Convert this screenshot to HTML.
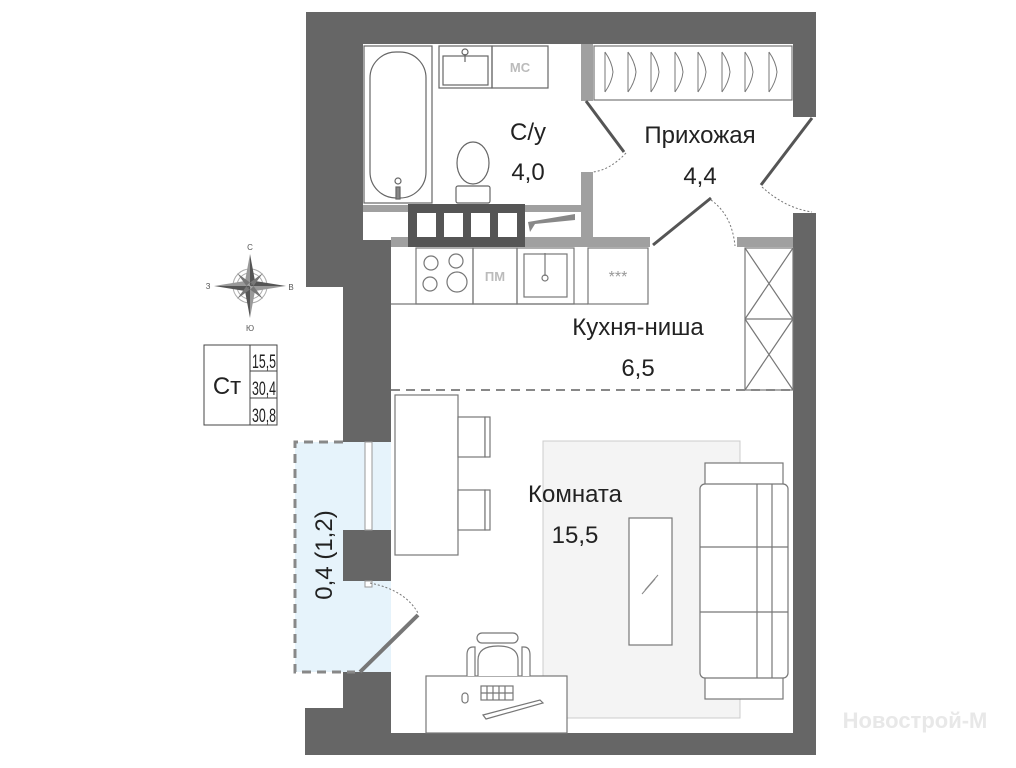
<!DOCTYPE html>
<html><head><meta charset="utf-8"><style>
html,body{margin:0;padding:0;background:#fff;}
svg{display:block;}
text{font-family:"Liberation Sans","DejaVu Sans",sans-serif;}
</style></head><body>
<svg width="1016" height="768" viewBox="0 0 1016 768" xmlns="http://www.w3.org/2000/svg">
<g fill="#666">
<rect x="306" y="12" width="510" height="32"/>
<rect x="306" y="12" width="57" height="275"/>
<rect x="343" y="240" width="48" height="202"/>
<rect x="793" y="12" width="23" height="105"/>
<rect x="793" y="213" width="23" height="542"/>
<rect x="305" y="733" width="511" height="22"/>
<rect x="343" y="672" width="48" height="83"/>
<rect x="305" y="708" width="50" height="47"/>
<rect x="343" y="530" width="48" height="51"/>
</g>
<rect x="295" y="442" width="48" height="230" fill="#e6f3fb"/>
<rect x="343" y="442" width="48" height="88" fill="#e6f3fb"/>
<rect x="343" y="581" width="48" height="91" fill="#e6f3fb"/>
<path d="M343 442 H295 V672 H355" fill="none" stroke="#888" stroke-width="3" stroke-dasharray="9,6"/>
<rect x="365" y="442" width="7" height="88" fill="#fff" stroke="#999" stroke-width="1"/>
<rect x="365" y="581" width="7" height="6" fill="#fff" stroke="#999" stroke-width="1"/>
<line x1="360" y1="672" x2="418" y2="615" stroke="#777" stroke-width="4"/>
<path d="M370 583 Q405 590 418 613" fill="none" stroke="#777" stroke-width="1" stroke-dasharray="2,2"/>
<g fill="#a0a0a0">
<rect x="363" y="205" width="48" height="7"/>
<rect x="525" y="205" width="56" height="7"/>
<rect x="581" y="44" width="12" height="57"/>
<rect x="581" y="172" width="12" height="75"/>
<rect x="391" y="237" width="259" height="10"/>
<rect x="737" y="237" width="56" height="10"/>
</g>
<rect x="408" y="204" width="117" height="43" fill="#555"/>
<g fill="#fff">
<rect x="417" y="213" width="19" height="24"/><rect x="444" y="213" width="19" height="24"/><rect x="471" y="213" width="19" height="24"/><rect x="498" y="213" width="19" height="24"/>
</g>
<path d="M528 222 L575 214 L575 220 L535 224 L530 232 Z" fill="#888"/>
<g stroke="#555" stroke-width="3">
<line x1="586" y1="101" x2="624" y2="152"/>
<line x1="653" y1="245" x2="711" y2="198"/>
<line x1="761" y1="185" x2="812" y2="118"/>
</g>
<g fill="none" stroke="#777" stroke-width="1" stroke-dasharray="2,2">
<path d="M626 153 Q610 170 593 172"/>
<path d="M711 200 Q732 215 735 246"/>
<path d="M762 187 Q785 208 812 212"/>
</g>
<g fill="none" stroke="#666" stroke-width="1.2">
<rect x="364" y="46" width="68" height="157"/>
<rect x="370" y="52" width="56" height="146" rx="26"/>
<circle cx="398" cy="181" r="3"/>
<rect x="396" y="187" width="4" height="12" fill="#888"/>
<rect x="439" y="46" width="53" height="42"/>
<rect x="443" y="56" width="45" height="29"/>
<circle cx="465" cy="52" r="3"/><line x1="465" y1="54" x2="465" y2="62"/>
<rect x="492" y="46" width="56" height="42"/>
<ellipse cx="473" cy="163" rx="16" ry="21"/>
<rect x="456" y="186" width="34" height="17" rx="2"/>
</g>
<text x="520" y="72" font-size="13" font-weight="bold" fill="#bbb" text-anchor="middle">МС</text>
<rect x="594" y="46" width="198" height="54" fill="none" stroke="#777" stroke-width="1.2"/>
<g fill="none" stroke="#777" stroke-width="1">
<path d="M605 52 v40 M605 52 q7 10 8 20 q-1 10 -8 20"/><path d="M628 52 v40 M628 52 q7 10 8 20 q-1 10 -8 20"/><path d="M651 52 v40 M651 52 q7 10 8 20 q-1 10 -8 20"/><path d="M675 52 v40 M675 52 q7 10 8 20 q-1 10 -8 20"/><path d="M698 52 v40 M698 52 q7 10 8 20 q-1 10 -8 20"/><path d="M722 52 v40 M722 52 q7 10 8 20 q-1 10 -8 20"/><path d="M745 52 v40 M745 52 q7 10 8 20 q-1 10 -8 20"/><path d="M769 52 v40 M769 52 q7 10 8 20 q-1 10 -8 20"/>
</g>
<g fill="none" stroke="#777" stroke-width="1.2">
<line x1="391" y1="304" x2="588" y2="304"/>
<rect x="416" y="248" width="57" height="56"/>
<circle cx="431" cy="263" r="7"/><circle cx="456" cy="261" r="7"/><circle cx="430" cy="284" r="7"/><circle cx="457" cy="282" r="10"/>
<rect x="473" y="248" width="44" height="56"/>
<rect x="517" y="248" width="57" height="56"/>
<rect x="524" y="254" width="43" height="43"/>
<line x1="545" y1="253" x2="545" y2="276"/><circle cx="545" cy="278" r="3"/>
<rect x="588" y="248" width="60" height="56"/>
<rect x="745" y="248" width="48" height="142"/>
<path d="M745 248 L793 319 M793 248 L745 319 M745 319 L793 390 M793 319 L745 390 M745 319 H793"/>
</g>
<text x="495" y="281" font-size="13" font-weight="bold" fill="#bbb" text-anchor="middle">ПМ</text>
<text x="618" y="282" font-size="16" fill="#999" text-anchor="middle">***</text>
<line x1="391" y1="390" x2="793" y2="390" stroke="#888" stroke-width="2" stroke-dasharray="9,6"/>
<rect x="543" y="441" width="197" height="277" fill="#f4f4f4" stroke="#ccc" stroke-width="1"/>
<g fill="#fff" stroke="#777" stroke-width="1.2">
<rect x="395" y="395" width="63" height="160"/>
<rect x="458" y="417" width="27" height="40"/><rect x="485" y="417" width="5" height="40"/>
<rect x="458" y="490" width="27" height="40"/><rect x="485" y="490" width="5" height="40"/>
<rect x="629" y="518" width="43" height="127"/>
<rect x="705" y="463" width="78" height="22"/>
<rect x="705" y="677" width="78" height="22"/>
<rect x="700" y="484" width="88" height="194" rx="5"/>
<line x1="757" y1="484" x2="757" y2="678"/><line x1="772" y1="484" x2="772" y2="678"/>
<line x1="700" y1="547" x2="788" y2="547"/><line x1="700" y1="612" x2="788" y2="612"/>
<rect x="426" y="676" width="141" height="57"/>
<rect x="477" y="633" width="41" height="10" rx="5"/>
<path d="M467 676 V655 q0 -8 6 -8 h2 v29 M530 676 V655 q0 -8 -6 -8 h-2 v29"/>
<path d="M478 676 V660 q0 -14 20 -14 q20 0 20 14 V676"/>
<rect x="481" y="686" width="32" height="14"/>
<path d="M487 686 v14 M493 686 v14 M499 686 v14 M505 686 v14 M481 693 h32"/>
<path d="M483 715 L540 700 L543 703 L486 719 Z"/>
<rect x="462" y="693" width="6" height="10" rx="3"/>
</g>
<line x1="645" y1="590" x2="658" y2="575" stroke="#888"/><line x1="642" y1="594" x2="655" y2="579" stroke="#888"/>
<g font-size="24" fill="#222" text-anchor="middle">
<text x="528" y="140">С/у</text><text x="528" y="180">4,0</text>
<text x="700" y="143">Прихожая</text><text x="700" y="184">4,4</text>
<text x="638" y="335">Кухня-ниша</text><text x="638" y="376">6,5</text>
<text x="575" y="502">Комната</text><text x="575" y="543">15,5</text>
<text transform="translate(332,555) rotate(-90)" x="0" y="0">0,4 (1,2)</text>
</g>
<g transform="translate(250,286)">
<circle r="17" fill="none" stroke="#aaa"/><circle r="13" fill="none" stroke="#aaa"/>
<path d="M0 -32 L5 -5 L0 0 Z" fill="#555"/><path d="M0 -32 L-5 -5 L0 0 Z" fill="#999"/>
<path d="M0 32 L5 5 L0 0 Z" fill="#999"/><path d="M0 32 L-5 5 L0 0 Z" fill="#555"/>
<path d="M-36 0 L-5 -5 L0 0 Z" fill="#999"/><path d="M-36 0 L-5 5 L0 0 Z" fill="#555"/>
<path d="M36 0 L5 -5 L0 0 Z" fill="#555"/><path d="M36 0 L5 5 L0 0 Z" fill="#999"/>
<path d="M-13 -13 L2 -2 L-2 2 Z M13 13 L-2 2 L2 -2 Z M13 -13 L-2 -2 L2 2 Z M-13 13 L2 2 L-2 -2 Z" fill="#777"/>
<g font-size="8" fill="#555" text-anchor="middle"><text y="-36">С</text><text y="45">Ю</text><text x="-42" y="3">З</text><text x="41" y="4">В</text></g>
</g>
<g fill="none" stroke="#444" stroke-width="1">
<rect x="204" y="345" width="73" height="80"/>
<line x1="250" y1="345" x2="250" y2="425"/>
<line x1="250" y1="371" x2="277" y2="371"/><line x1="250" y1="398" x2="277" y2="398"/>
</g>
<text x="227" y="394" font-size="24" fill="#222" text-anchor="middle">Ст</text>
<g font-size="19" fill="#222"><text x="252" y="368" textLength="24" lengthAdjust="spacingAndGlyphs">15,5</text><text x="252" y="395" textLength="24" lengthAdjust="spacingAndGlyphs">30,4</text><text x="252" y="422" textLength="24" lengthAdjust="spacingAndGlyphs">30,8</text></g>
<text x="915" y="728" font-size="22" font-weight="bold" fill="#e8e8e8" text-anchor="middle">Новострой-М</text>
</svg>
</body></html>
